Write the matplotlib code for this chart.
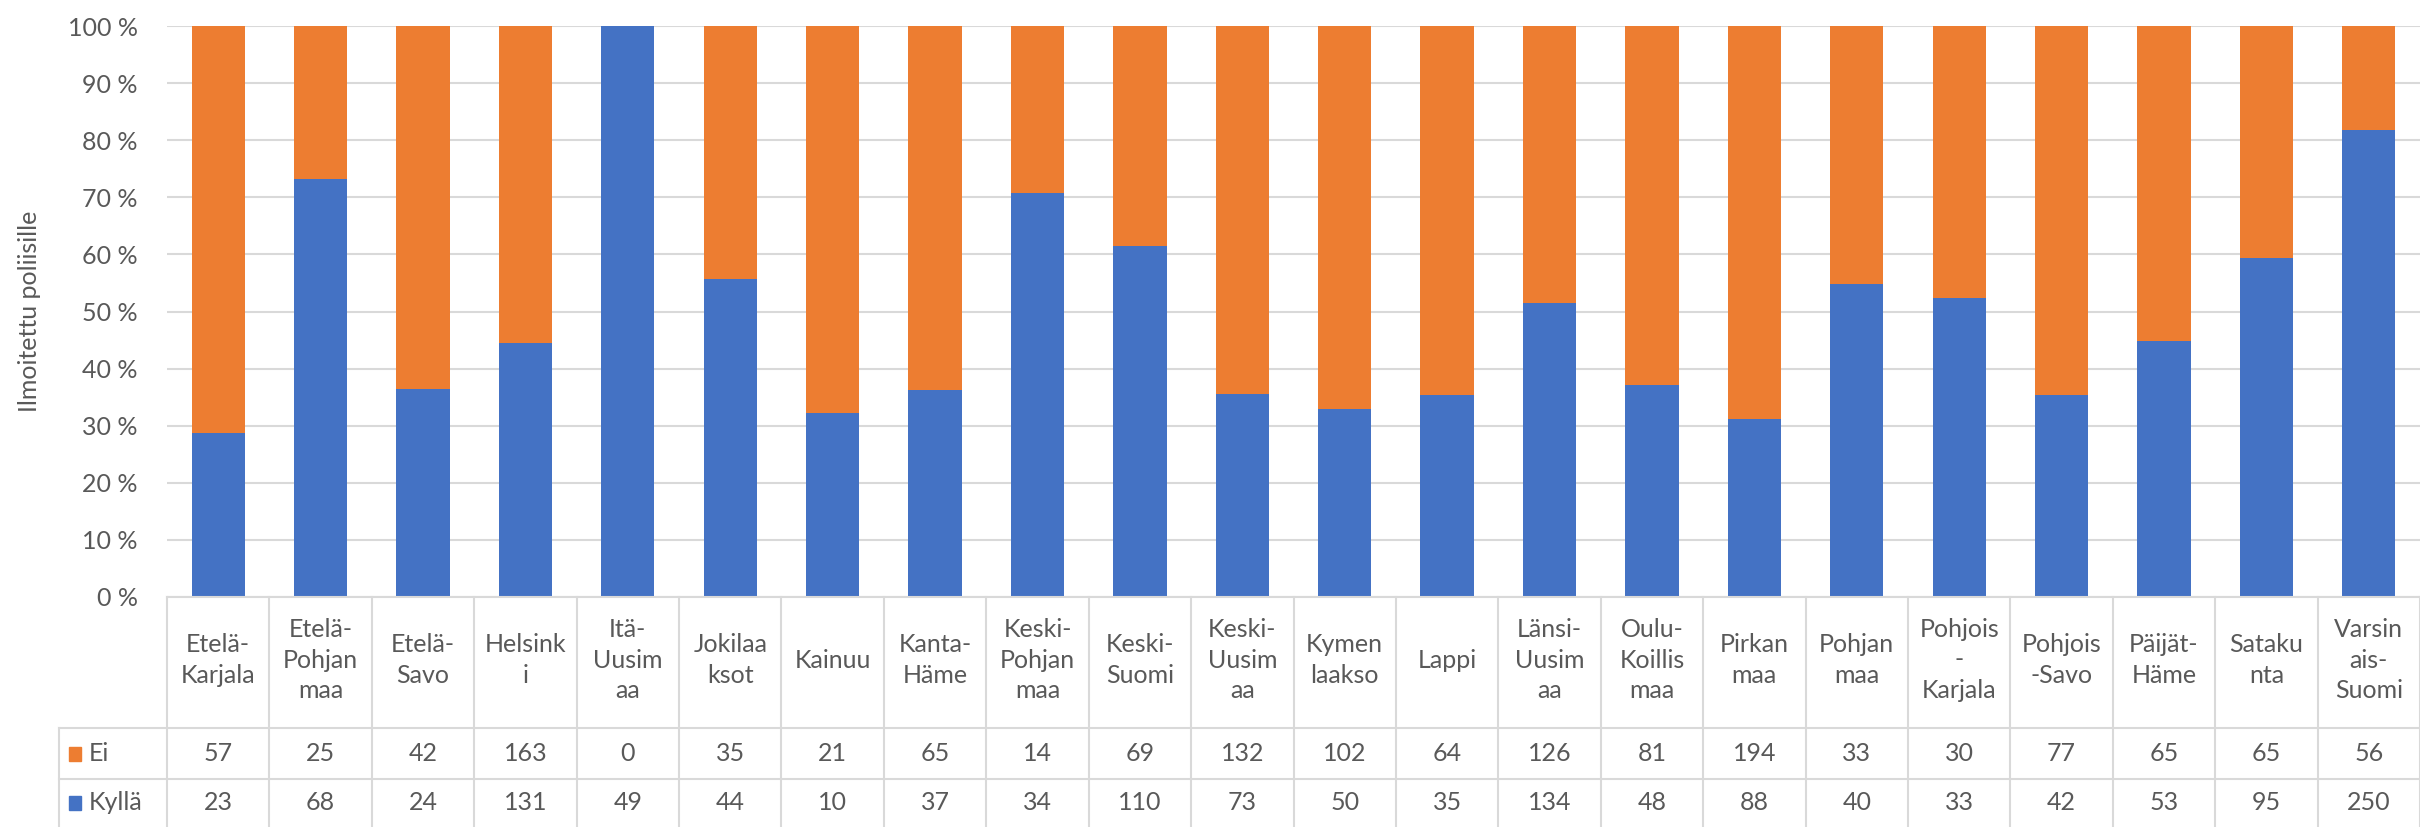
import matplotlib
matplotlib.use("Agg")
import matplotlib.pyplot as plt
from matplotlib.ticker import FuncFormatter
import numpy as np

plt.rcParams['font.family'] = ['Lato', 'DejaVu Sans']

categories = ["Etelä-\nKarjala", "Etelä-\nPohjan\nmaa", "Etelä-\nSavo", "Helsink\ni",
              "Itä-\nUusim\naa", "Jokilaa\nksot", "Kainuu", "Kanta-\nHäme",
              "Keski-\nPohjan\nmaa", "Keski-\nSuomi", "Keski-\nUusim\naa", "Kymen\nlaakso",
              "Lappi", "Länsi-\nUusim\naa", "Oulu-\nKoillis\nmaa", "Pirkan\nmaa",
              "Pohjan\nmaa", "Pohjois\n-\nKarjala", "Pohjois\n-Savo", "Päijät-\nHäme",
              "Sataku\nnta", "Varsin\nais-\nSuomi"]
ei = [57, 25, 42, 163, 0, 35, 21, 65, 14, 69, 132, 102, 64, 126, 81, 194, 33, 30, 77, 65, 65, 56]
kylla = [23, 68, 24, 131, 49, 44, 10, 37, 34, 110, 73, 50, 35, 134, 48, 88, 40, 33, 42, 53, 95, 250]
series_names = ["Ei", "Kyllä"]
y_label = "Ilmoitettu poliisille"

BLUE = "#4472C4"
ORANGE = "#ED7D31"
TXT = "#595959"
GRID = "#D9D9D9"
FS = 18

W, H = 2420, 827
fig = plt.figure(figsize=(W / 100, H / 100), dpi=100)

px_left, px_top, px_bottom = 167, 26, 597
ax = fig.add_axes([px_left / W, (H - px_bottom) / H, 1 - px_left / W, (px_bottom - px_top) / H])

ei_a = np.array(ei, dtype=float)
ky_a = np.array(kylla, dtype=float)
tot = ei_a + ky_a
ky_p = ky_a / tot * 100
ei_p = ei_a / tot * 100
x = np.arange(len(categories))
bw = 0.52
ax.bar(x, ky_p, width=bw, color=BLUE, zorder=3)
ax.bar(x, ei_p, width=bw, bottom=ky_p, color=ORANGE, zorder=3)

n = len(categories)
ax.set_xlim(-0.5, n - 0.5)
ax.set_ylim(0, 100)
ax.set_yticks(np.arange(0, 101, 10))
ax.yaxis.set_major_formatter(FuncFormatter(lambda v, p: f"{int(v)} %"))
ax.tick_params(axis='y', length=0, pad=21, labelsize=FS, labelcolor=TXT)
ax.set_xticks([])
ax.grid(axis='y', color=GRID, linewidth=1.5, zorder=0)
for s in ax.spines.values():
    s.set_visible(False)
ax.set_ylabel(y_label, fontsize=FS, color=TXT)
ax.yaxis.set_label_coords(-(px_left - 30) / (W - px_left), 0.5)
ax.yaxis.label.set_va('center')

# data table
tax = fig.add_axes([0, 0, 1, 1])
tax.set_axis_off()
unit = (W - px_left) / n  # px per category
xl = -0.5 - px_left / unit
tax.set_xlim(xl, xl + W / unit)
tax.set_ylim(H, 0)

y_head_top, y_ei, y_ky, y_bot = 597, 728, 779, 830
label_left = -0.5 - (px_left - 59) / unit
lc = GRID
lw = 1.5
tax.plot([-0.5, n - 0.5], [y_head_top, y_head_top], color=lc, lw=lw)
tax.plot([label_left, n - 0.5], [y_ei, y_ei], color=lc, lw=lw)
tax.plot([label_left, n - 0.5], [y_ky, y_ky], color=lc, lw=lw)
tax.plot([label_left, label_left], [y_ei, y_bot], color=lc, lw=lw)
for i in range(n + 1):
    tax.plot([i - 0.5, i - 0.5], [y_head_top, y_bot], color=lc, lw=lw)

for i, c in enumerate(categories):
    tax.text(i, 660, c, ha='center', va='center', fontsize=FS, color=TXT, linespacing=1.4)
    tax.text(i, (y_ei + y_ky) / 2, str(ei[i]), ha='center', va='center', fontsize=FS, color=TXT)
    tax.text(i, (y_ky + 827) / 2, str(kylla[i]), ha='center', va='center', fontsize=FS, color=TXT)

# row legend labels
sq = 12 / unit
for yc, name, col in [((y_ei + y_ky) / 2, series_names[0], ORANGE), ((y_ky + 827) / 2, series_names[1], BLUE)]:
    x0 = label_left + 10 / unit
    tax.add_patch(plt.Rectangle((x0, yc - 7), sq, 14, color=col))
    tax.text(x0 + 20 / unit, yc, name, ha='left', va='center', fontsize=FS, color=TXT)

fig.savefig("out.png", dpi=100)
